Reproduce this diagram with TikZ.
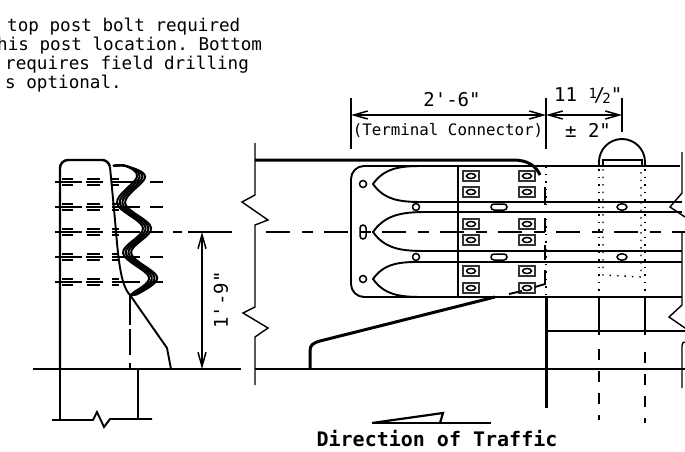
\documentclass[tikz,border=0pt]{standalone}
\usepackage{fontspec}
\setmonofont{DejaVu Sans Mono}
\usetikzlibrary{positioning}
\usetikzlibrary{arrows.meta}
\usetikzlibrary{shapes.geometric}
\tikzset{
	thinline/.style={line width=1.4pt},
	medline/.style={line width=1.9pt},
	heavyline/.style={line width=3pt},
	railline/.style={line width=2pt},
	dimline/.style={line width=1.5pt,{Straight Barb[length=14pt,width=8pt]}-{Straight Barb[length=14pt,width=8pt]}},
	dotline/.style={line width=1.4pt,dash pattern=on 1.5pt off 6pt},
	label/.style={inner sep=0pt,font=\ttfamily\fontsize{17.6}{19}\selectfont},
	boltbox/.style={draw=black!80,line width=1.2pt,minimum width=16pt,minimum height=10pt,inner sep=0pt},
	boltnut/.style={draw,ellipse,line width=1.5pt,minimum width=9pt,minimum height=5pt,inner sep=0pt},
	railhole/.style={draw,circle,line width=1.5pt,minimum size=7pt,inner sep=0pt},
	railslot/.style={draw,rounded corners=3pt,line width=1.5pt,minimum width=16pt,minimum height=6pt,inner sep=0pt},
}
\begin{document}
\begin{tikzpicture}[x=1pt,y=-1pt]
	\useasboundingbox (0,0) rectangle (685,452);
	% note
	\node[label,anchor=west] (note1) at (7,27) {top post bolt required};
	\node[label,anchor=west] (note2) at (-3,46) {his post location. Bottom};
	\node[label,anchor=west] (note3) at (5,65) {requires field drilling};
	\node[label,anchor=west] (note4) at (5,84) {s optional.};

	% section through the post
	\foreach \y in {182,207,232,257,282} {
		\draw[thinline,dash pattern=on 27pt off 4pt on 17pt off 9pt on 28pt off 10pt on 13pt off 200pt] (55,\y) -- (163,\y);
		\draw[line width=1.1pt,dash pattern=on 11pt off 14pt on 13pt off 12pt on 7pt off 100pt] (62,\y-3) -- (125,\y-3);
		\draw[line width=1.1pt,dash pattern=on 11pt off 14pt on 13pt off 12pt on 7pt off 100pt] (62,\y+3) -- (125,\y+3);
	}
	\draw[line width=2.4pt] (60,369) -- (60,168) arc[start angle=180,end angle=270,radius=8] -- (102,160) arc[start angle=-90,end angle=-10,radius=8];
	\draw[medline] (110,167) -- (115,220) .. controls (118,255) and (120,285) .. (130,295) -- (167,348) -- (171,369);
	\draw[medline] (33,369) -- (241,369);
	\draw[line width=2.4pt] (60,369) -- (60,420);
	\draw[line width=2.4pt] (138,369) -- (138,420);
	\draw[medline] (52,420) -- (93,420) -- (97,412) -- (104,427) -- (110,419) -- (152,419);
	\draw[medline,dash pattern=on 30pt off 4pt on 26pt off 8pt] (130,295) -- (130,369);
	\foreach \d in {0,2.7,5.4,8.1} {
		\draw[railline] plot[smooth,tension=0.6] coordinates {(113,166) (126,166) (137+\d,177) (117+\d,203) (143+\d,228) (123+\d,253) (149+\d,277) (133+\d*0.8,293) (130,295)};
	}
	\draw[medline] (173,232) -- (182,232);
	\draw[medline] (188,232) -- (232,232);
	\coordinate (dimTop) at (202,232);
	\coordinate (dimBot) at (202,369);
	\draw[dimline] (dimTop) -- (dimBot);
	\node[label,rotate=90,font=\ttfamily\fontsize{19}{21}\selectfont] (rise) at (221,300) {1'-9"};

	% elevation, left end
	\draw[thinline] (255,143) -- (255,195) -- (242,202) -- (268,220) -- (255,225) -- (255,307) -- (243,313) -- (268,328) -- (255,337) -- (255,385);
	\draw[heavyline] (255,160) -- (513,160) .. controls (528,160) and (536,166) .. (540,175);
	\draw[heavyline] (310,369) -- (310,351) .. controls (310,345) and (313,343) .. (320,341) -- (495,297);
	\draw[medline] (255,369) -- (685,369);

	% terminal connector
	\draw[medline] (428,166) -- (364,166) arc[start angle=270,end angle=180,radius=13] -- (351,284) arc[start angle=180,end angle=90,radius=13] -- (428,297);
	\draw[medline] (428,166) -- (680,166);
	\draw[medline] (428,297) -- (682,297);
	\draw[medline] (428,202) -- (682,202);
	\draw[medline] (428,212) -- (682,212);
	\draw[medline] (428,251) -- (682,251);
	\draw[medline] (428,262) -- (682,262);
	\draw[medline] (458,166) -- (458,297);
	\draw[medline] (428,166) to[out=180,in=55] (373,184) to[out=-55,in=180] (428,202);
	\draw[medline] (428,212) to[out=180,in=55] (373,232) to[out=-55,in=180] (428,251);
	\draw[medline] (428,262) to[out=180,in=55] (373,279) to[out=-55,in=180] (428,297);
	\foreach \y in {176,192,224,240,271,288} {
		\foreach \x in {471,527} {
			\node[boltbox] at (\x,\y) {};
			\node[boltnut] at (\x,\y) {};
		}
	}
	\foreach \y in {207,257} {
		\node[railhole] at (416,\y) {};
		\node[railslot] at (499,\y) {};
		\node[boltnut,minimum width=10pt,minimum height=6.5pt] at (622,\y) {};
	}
	\node[railhole] at (363,184) {};
	\node[railhole] at (363,279) {};
	\node[draw,rounded corners=3pt,line width=1.5pt,minimum width=6pt,minimum height=14pt,inner sep=0pt] at (363,232) {};
	\draw[medline,dash pattern=on 24pt off 12pt on 11pt off 11pt] (266,232) -- (685,232);

	% hidden edge at end of connector
	\draw[dotline] (546,166) -- (546,297);
	\draw[medline] (545,187) -- (545,205);
	\draw[medline] (545,218) -- (545,232);
	\draw[medline] (545,245) -- (545,260);
	\draw[medline] (545,270) -- (545,284) -- (535,287);
	\draw[medline] (522,291) -- (509,294);

	% post
	\draw[medline] (599,166) -- (599,162) arc[start angle=180,end angle=360,radius=23] -- (645,166);
	\draw[thinline] (603,166) -- (603,160) -- (642,160) -- (642,166);
	\foreach \x in {599,645} {
		\draw[dotline] (\x,169) -- (\x,297);
	}
	\draw[dotline] (603,169) -- (603,275) -- (641,277) -- (641,169);
	\draw[heavyline] (546,297) -- (546,408);
	\draw[medline] (599,297) -- (599,335);
	\draw[medline] (645,297) -- (645,335);
	\draw[medline,dash pattern=on 11pt off 11pt] (599,349) -- (599,420);
	\draw[medline,dash pattern=on 11pt off 11pt] (645,352) -- (645,423);
	\draw[medline] (546,331) -- (685,331);

	% elevation, right end
	\draw[thinline] (682,152) -- (682,193) -- (670,207) -- (685,217);
	\draw[thinline] (682,232) -- (682,305) -- (669,317) -- (685,328);
	\draw[thinline] (685,342) .. controls (683,342) and (682,343) .. (682,346) -- (682,388);

	% dimensions
	\coordinate (extA) at (351,115);
	\coordinate (extB) at (546,115);
	\coordinate (extC) at (622,115);
	\draw[thinline] (351,98) -- (351,149);
	\draw[thinline] (546,98) -- (546,149);
	\draw[thinline] (622,98) -- (622,132);
	\draw[dimline] (extA) -- (extB);
	\draw[dimline] (extB) -- (extC);
	\node[label,font=\ttfamily\fontsize{19}{21}\selectfont] (length) at (452,100) {2'-6"};
	\node[label,font=\ttfamily\fontsize{15.8}{18}\selectfont] (connector) at (448,130) {(Terminal Connector)};
	\node[label,font=\ttfamily\fontsize{19}{21}\selectfont,anchor=west] (offset) at (554,96) {11 \raisebox{3pt}{\fontsize{14}{14}\selectfont 1}\kern-3pt/\kern-3pt\raisebox{-2pt}{\fontsize{14}{14}\selectfont 2}"};
	\node[label,font=\ttfamily\fontsize{19}{21}\selectfont] (tolerance) at (588,130) {± 2"};

	% traffic
	\draw[line width=2.4pt] (372,423) -- (491,423);
	\draw[line width=2.2pt] (372,423) -- (443,413) -- (440,423);
	\node[label,font=\ttfamily\fontsize{20}{22}\bfseries\selectfont] (traffic) at (437,439) {Direction of Traffic};
\end{tikzpicture}
\end{document}
